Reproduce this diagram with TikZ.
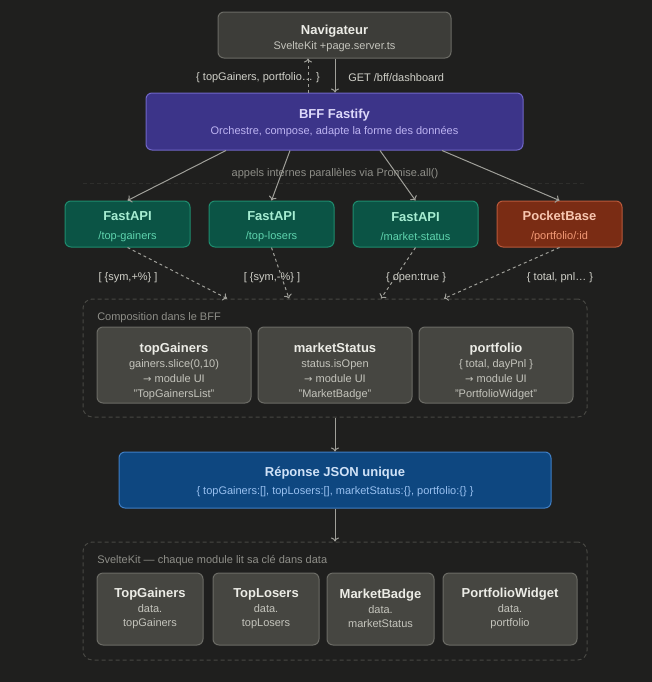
\documentclass[tikz,border=0pt]{standalone}
\usepackage{fontspec}
\setmainfont{Liberation Sans}
\newfontfamily\symfont{DejaVu Sans}
\usetikzlibrary{arrows.meta,calc}
\definecolor{bg}{HTML}{1F1F1E}
\definecolor{grayfill}{HTML}{3D3D39}
\definecolor{grayline}{HTML}{6B6B65}
\definecolor{innerfill}{HTML}{464641}
\definecolor{titlegray}{HTML}{ECECE6}
\definecolor{subgray}{HTML}{C4C4BC}
\definecolor{purplefill}{HTML}{3C3489}
\definecolor{purpleline}{HTML}{7066C7}
\definecolor{purpletitle}{HTML}{DDD8FA}
\definecolor{purplesub}{HTML}{BDB4F2}
\definecolor{greenfill}{HTML}{0B5445}
\definecolor{greenline}{HTML}{1E8C6E}
\definecolor{greentitle}{HTML}{A6EDD2}
\definecolor{greensub}{HTML}{5FD4AE}
\definecolor{orangefill}{HTML}{7A2C14}
\definecolor{orangeline}{HTML}{B8583A}
\definecolor{orangetitle}{HTML}{F7C6B0}
\definecolor{orangesub}{HTML}{F39A76}
\definecolor{bluefill}{HTML}{0E4780}
\definecolor{blueline}{HTML}{3F7EC4}
\definecolor{bluetitle}{HTML}{D0E2F7}
\definecolor{bluesub}{HTML}{98C0F0}
\definecolor{arrowgray}{HTML}{A0A09A}
\definecolor{labelgray}{HTML}{D0D0C8}
\definecolor{dimgray}{HTML}{8E8E88}
\definecolor{contline}{HTML}{484844}
\definecolor{faintline}{HTML}{2E2E2C}
\newcommand{\ttl}[1]{{\fontsize{9.75}{11.25}\selectfont\bfseries #1}}
\newcommand{\rarr}{{\symfont\fontsize{7.5}{11.25}\selectfont →}}
\begin{document}
\begin{tikzpicture}[x=0.75pt,y=-0.75pt,
  box/.style={draw, rounded corners=4.5pt, line width=0.75pt, inner sep=0pt},
  txt/.style={align=center, inner sep=0pt, font=\fontsize{8.25}{11.25}\selectfont},
  lbl/.style={inner sep=0pt, font=\fontsize{8.25}{11.25}\selectfont, text=labelgray},
  dimlbl/.style={inner sep=0pt, font=\fontsize{8.25}{11.25}\selectfont, text=dimgray},
  cont/.style={draw=contline, dashed, dash pattern=on 3pt off 2.25pt, rounded corners=7pt, line width=0.75pt, inner sep=0pt},
  arr/.style={draw=arrowgray, line width=0.75pt, -{To[length=3pt,width=6pt]}},
  darr/.style={arr, dash pattern=on 2.25pt off 2.25pt}
]
\fill[bg] (0,0) rectangle (652,682);
\useasboundingbox (0,0) rectangle (652,682);

% Navigateur
\node[box, draw=grayline, fill=grayfill, minimum width=233*.75pt, minimum height=46*.75pt] (nav) at (334.5,35) {};
\node[txt] (navt) at (334.5,38.5) {\textcolor{titlegray}{\ttl{Navigateur}}\\\textcolor{subgray}{SvelteKit +page.server.ts}};

% BFF
\node[box, draw=purpleline, fill=purplefill, minimum width=377*.75pt, minimum height=57*.75pt] (bff) at (334.5,121.5) {};
\node[txt] (bfft) at (334.5,123) {\textcolor{purpletitle}{\ttl{BFF Fastify}}\\[0.75pt]\textcolor{purplesub}{Orchestre, compose, adapte la forme des données}};

% nav <-> bff
\draw[darr] (308,0 |- bff.north) -- (308,0 |- nav.south);
\draw[arr] (335,0 |- nav.south) -- (335,0 |- bff.north);
\node[lbl, anchor=east] (retl) at (320,78) {\{ topGainers, portfolio… \}};
\node[lbl, anchor=west] (getl) at (348,78) {GET /bff/dashboard};

% services
\node[box, draw=greenline, fill=greenfill, minimum width=125*.75pt, minimum height=46*.75pt] (s1) at (127.5,224) {};
\node[box, draw=greenline, fill=greenfill, minimum width=125*.75pt, minimum height=46*.75pt] (s2) at (271.5,224) {};
\node[box, draw=greenline, fill=greenfill, minimum width=125*.75pt, minimum height=46*.75pt] (s3) at (415.5,224) {};
\node[box, draw=orangeline, fill=orangefill, minimum width=125*.75pt, minimum height=46*.75pt] (s4) at (559.5,224) {};
\node[txt] (s1t) at (127.5,226.5) {\textcolor{greentitle}{\ttl{FastAPI}}\\[3pt]\textcolor{greensub}{/top-gainers}};
\node[txt] (s2t) at (271.5,226.5) {\textcolor{greentitle}{\ttl{FastAPI}}\\[3pt]\textcolor{greensub}{/top-losers}};
\node[txt] (s3t) at (415.5,226.5) {\textcolor{greentitle}{\ttl{FastAPI}}\\[3pt]\textcolor{greensub}{/market-status}};
\node[txt] (s4t) at (559.5,226.5) {\textcolor{orangetitle}{\ttl{PocketBase}}\\[3pt]\textcolor{orangesub}{/portfolio/:id}};

\node[dimlbl] (par) at (335,174) {appels internes parallèles via Promise.all()};
\draw[draw=faintline, dash pattern=on 3pt off 2.25pt, line width=0.75pt] (83,183) -- (587,183);

\draw[arr] (226,0 |- bff.south) -- (s1.north);
\draw[arr] (290,0 |- bff.south) -- (s2.north);
\draw[arr] (380,0 |- bff.south) -- (s3.north);
\draw[arr] (442,0 |- bff.south) -- (s4.north);

% composition container
\node[cont, minimum width=504*.75pt, minimum height=118*.75pt] (comp) at (335,358) {};
\node[dimlbl, anchor=west] (compl) at (97,318) {Composition dans le BFF};

\draw[darr] (s1.south) -- (227,0 |- comp.north);
\draw[darr] (s2.south) -- (289,0 |- comp.north);
\draw[darr] (s3.south) -- (381,0 |- comp.north);
\draw[darr] (s4.south) -- (444,0 |- comp.north);
\node[lbl] (l1) at (128,278) {[ \{sym,+\%\} ]};
\node[lbl] (l2) at (272,278) {[ \{sym,-\%\} ]};
\node[lbl] (l3) at (416,278) {\{ open:true \}};
\node[lbl] (l4) at (560,278) {\{ total, pnl… \}};

\node[box, draw=grayline, fill=innerfill, minimum width=154*.75pt, minimum height=76*.75pt] (c1) at (174,365) {};
\node[box, draw=grayline, fill=innerfill, minimum width=154*.75pt, minimum height=76*.75pt] (c2) at (335,365) {};
\node[box, draw=grayline, fill=innerfill, minimum width=154*.75pt, minimum height=76*.75pt] (c3) at (496,365) {};
\node[txt] (c1t) at (174,371.5) {\textcolor{titlegray}{\ttl{topGainers}}\\\textcolor{subgray}{gainers.slice(0,10)}\\\textcolor{subgray}{\rarr\ module UI}\\\textcolor{subgray}{"TopGainersList"}};
\node[txt] (c2t) at (335,371.5) {\textcolor{titlegray}{\ttl{marketStatus}}\\\textcolor{subgray}{status.isOpen}\\\textcolor{subgray}{\rarr\ module UI}\\\textcolor{subgray}{"MarketBadge"}};
\node[txt] (c3t) at (496,371.5) {\textcolor{titlegray}{\ttl{portfolio}}\\\textcolor{subgray}{\{ total, dayPnl \}}\\\textcolor{subgray}{\rarr\ module UI}\\\textcolor{subgray}{"PortfolioWidget"}};

% response
\node[box, draw=blueline, fill=bluefill, minimum width=432*.75pt, minimum height=56*.75pt] (resp) at (335,480) {};
\node[txt] (respt) at (335,481.5) {\textcolor{bluetitle}{\ttl{Réponse JSON unique}}\\[2.25pt]\textcolor{bluesub}{\{ topGainers:[], topLosers:[], marketStatus:\{\}, portfolio:\{\} \}}};
\draw[arr] (comp.south) -- (resp.north);

% sveltekit container
\node[cont, minimum width=504*.75pt, minimum height=118*.75pt] (svk) at (335,601) {};
\node[dimlbl, anchor=west] (svkl) at (97,561) {SvelteKit — chaque module lit sa clé dans data};
\draw[arr] (resp.south) -- (svk.north);

\node[box, draw=grayline, fill=innerfill, minimum width=106*.75pt, minimum height=72*.75pt] (m1) at (150,609) {};
\node[box, draw=grayline, fill=innerfill, minimum width=106*.75pt, minimum height=72*.75pt] (m2) at (266,609) {};
\node[box, draw=grayline, fill=innerfill, minimum width=107*.75pt, minimum height=72*.75pt] (m3) at (380.5,609) {};
\node[box, draw=grayline, fill=innerfill, minimum width=134*.75pt, minimum height=72*.75pt] (m4) at (510,609) {};
\node[txt] (m1t) at (150,608.5) {\textcolor{titlegray}{\ttl{TopGainers}}\\\textcolor{subgray}{data.}\\[-0.75pt]\textcolor{subgray}{topGainers}};
\node[txt] (m2t) at (266,608.5) {\textcolor{titlegray}{\ttl{TopLosers}}\\\textcolor{subgray}{data.}\\[-0.75pt]\textcolor{subgray}{topLosers}};
\node[txt] (m3t) at (380.5,608.5) {\textcolor{titlegray}{\ttl{MarketBadge}}\\\textcolor{subgray}{data.}\\[-0.75pt]\textcolor{subgray}{marketStatus}};
\node[txt] (m4t) at (510,608.5) {\textcolor{titlegray}{\ttl{PortfolioWidget}}\\\textcolor{subgray}{data.}\\[-0.75pt]\textcolor{subgray}{portfolio}};
\end{tikzpicture}
\end{document}
